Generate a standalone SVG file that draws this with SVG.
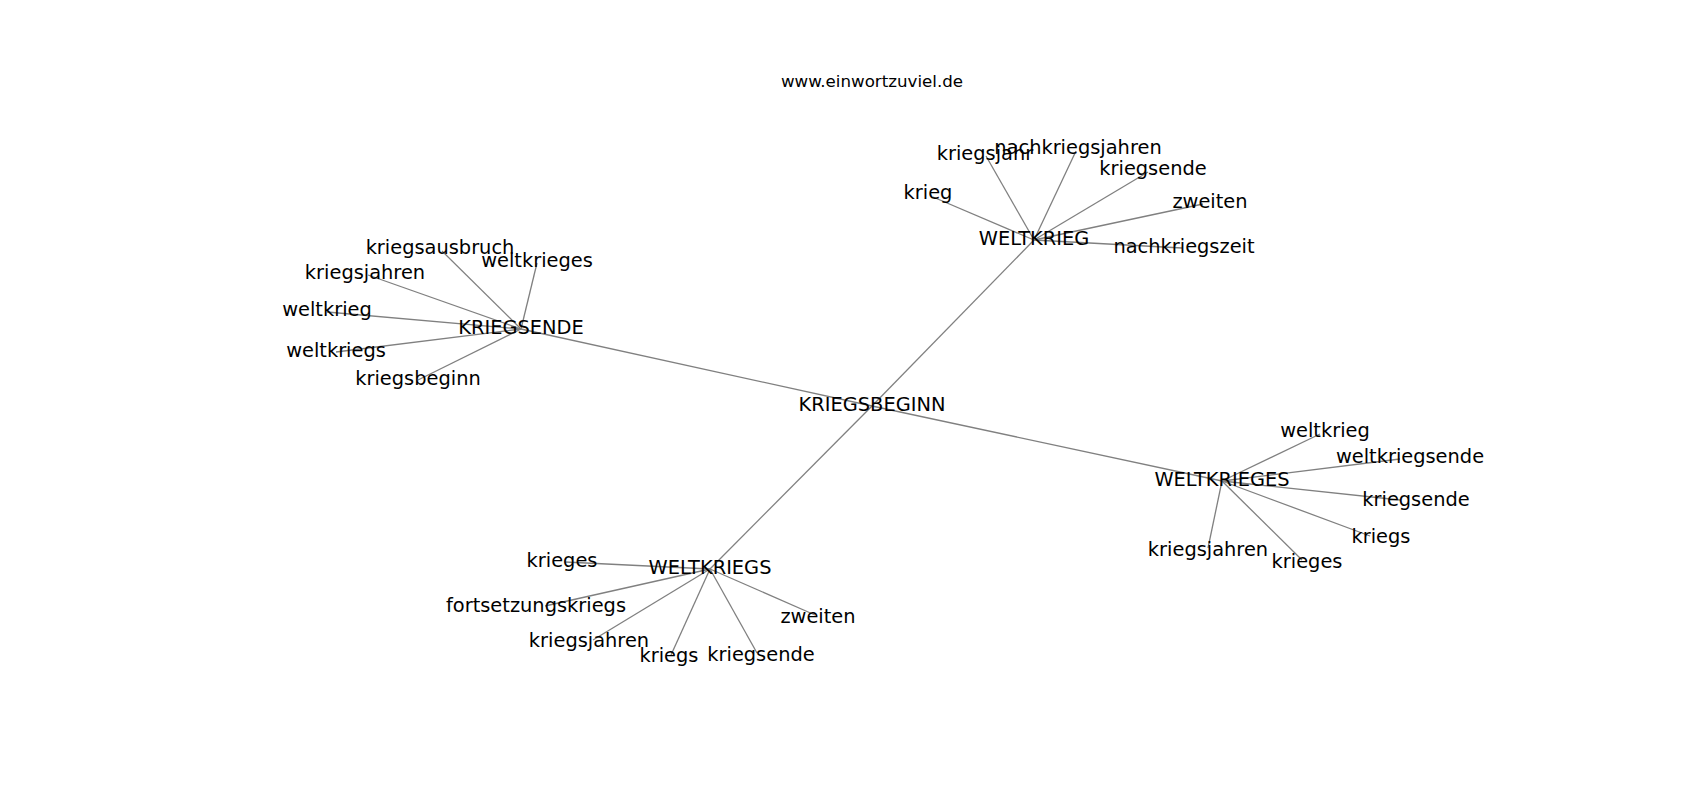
<svg xmlns="http://www.w3.org/2000/svg" width="1700" height="800" viewBox="0 0 1700 800">
<style>
text{font-family:"DejaVu Sans","Liberation Sans",sans-serif;font-size:19.4px;fill:#000;text-anchor:middle}
.title{font-size:16.67px}
.edges line{stroke:#808080;stroke-width:1.3}
</style>
<rect width="1700" height="800" fill="#fff"/>
<text class="title" x="872" y="87">www.einwortzuviel.de</text>
<g id="connectors" class="edges">
<line x1="872" y1="406" x2="521" y2="329"/>
<line x1="872" y1="406" x2="1034" y2="240"/>
<line x1="872" y1="406" x2="1222" y2="481"/>
<line x1="872" y1="406" x2="710" y2="569"/>
<line x1="521" y1="329" x2="442" y2="251"/>
<line x1="521" y1="329" x2="537" y2="263"/>
<line x1="521" y1="329" x2="368" y2="275"/>
<line x1="521" y1="329" x2="327" y2="312"/>
<line x1="521" y1="329" x2="336" y2="352"/>
<line x1="521" y1="329" x2="418" y2="380"/>
<line x1="1034" y1="240" x2="986" y2="156"/>
<line x1="1034" y1="240" x2="1076" y2="151"/>
<line x1="1034" y1="240" x2="1148" y2="172"/>
<line x1="1034" y1="240" x2="933" y2="197"/>
<line x1="1034" y1="240" x2="1203" y2="204"/>
<line x1="1034" y1="240" x2="1182" y2="248"/>
<line x1="1222" y1="481" x2="1320" y2="434"/>
<line x1="1222" y1="481" x2="1400" y2="459"/>
<line x1="1222" y1="481" x2="1400" y2="500"/>
<line x1="1222" y1="481" x2="1370" y2="536"/>
<line x1="1222" y1="481" x2="1208" y2="548"/>
<line x1="1222" y1="481" x2="1302" y2="560"/>
<line x1="710" y1="569" x2="565" y2="562"/>
<line x1="710" y1="569" x2="545" y2="606"/>
<line x1="710" y1="569" x2="593" y2="640"/>
<line x1="710" y1="569" x2="671" y2="655"/>
<line x1="710" y1="569" x2="757" y2="653"/>
<line x1="710" y1="569" x2="815" y2="615"/>
</g>
<g id="n-kriegsbeginn-hub"><text x="872" y="411">KRIEGSBEGINN</text></g>
<g id="n-kriegsende-hub"><text x="521" y="334">KRIEGSENDE</text></g>
<g id="n-weltkrieg-hub"><text x="1034" y="245">WELTKRIEG</text></g>
<g id="n-weltkrieges-hub"><text x="1222" y="486">WELTKRIEGES</text></g>
<g id="n-weltkriegs-hub"><text x="710" y="574">WELTKRIEGS</text></g>
<g id="n-ke-kriegsausbruch"><text x="440" y="254">kriegsausbruch</text></g>
<g id="n-ke-weltkrieges"><text x="537" y="267">weltkrieges</text></g>
<g id="n-ke-kriegsjahren"><text x="365" y="279">kriegsjahren</text></g>
<g id="n-ke-weltkrieg"><text x="327" y="316">weltkrieg</text></g>
<g id="n-ke-weltkriegs"><text x="336" y="357">weltkriegs</text></g>
<g id="n-ke-kriegsbeginn"><text x="418" y="385">kriegsbeginn</text></g>
<g id="n-wk-kriegsjahr"><text x="985" y="160">kriegsjahr</text></g>
<g id="n-wk-nachkriegsjahren"><text x="1078" y="154">nachkriegsjahren</text></g>
<g id="n-wk-kriegsende"><text x="1153" y="175">kriegsende</text></g>
<g id="n-wk-krieg"><text x="928" y="199">krieg</text></g>
<g id="n-wk-zweiten"><text x="1210" y="208">zweiten</text></g>
<g id="n-wk-nachkriegszeit"><text x="1184" y="253">nachkriegszeit</text></g>
<g id="n-wks-weltkrieg"><text x="1325" y="437">weltkrieg</text></g>
<g id="n-wks-weltkriegsende"><text x="1410" y="463">weltkriegsende</text></g>
<g id="n-wks-kriegsende"><text x="1416" y="506">kriegsende</text></g>
<g id="n-wks-kriegs"><text x="1381" y="543">kriegs</text></g>
<g id="n-wks-kriegsjahren"><text x="1208" y="556">kriegsjahren</text></g>
<g id="n-wks-krieges"><text x="1307" y="568">krieges</text></g>
<g id="n-ws-krieges"><text x="562" y="567">krieges</text></g>
<g id="n-ws-fortsetzungskriegs"><text x="536" y="612">fortsetzungskriegs</text></g>
<g id="n-ws-kriegsjahren"><text x="589" y="647">kriegsjahren</text></g>
<g id="n-ws-kriegs"><text x="669" y="662">kriegs</text></g>
<g id="n-ws-kriegsende"><text x="761" y="661">kriegsende</text></g>
<g id="n-ws-zweiten"><text x="818" y="623">zweiten</text></g>
</svg>
